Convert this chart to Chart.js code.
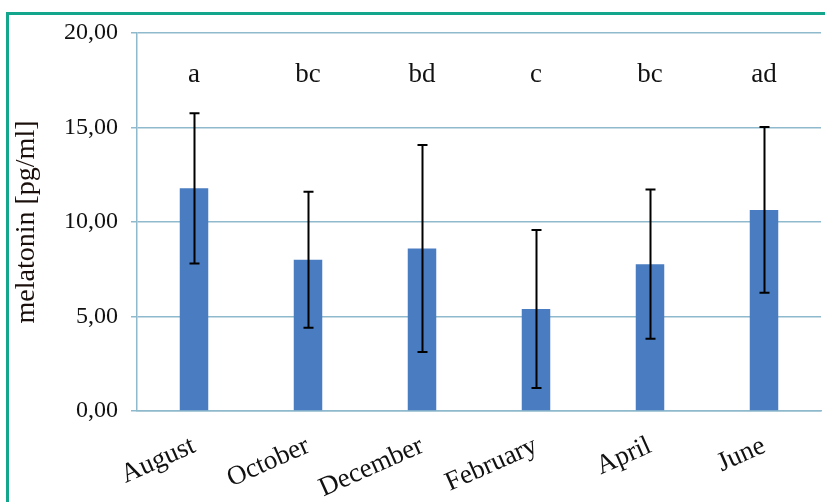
<!DOCTYPE html>
<html>
<head>
<meta charset="utf-8">
<script src="https://cdn.jsdelivr.net/npm/chart.js@4/dist/chart.umd.min.js"></script>
<style>
  html, body { margin: 0; padding: 0; background: #ffffff; }
  #wrap { position: relative; width: 825px; height: 502px; overflow: hidden; }
  #frame { position: absolute; left: 6px; top: 12px; width: 840px; height: 520px;
           border: 3px solid #14a58d; box-sizing: border-box; }
  #c { position: absolute; left: 0; top: 0; }
</style>
</head>
<body>
<div id="wrap">
  <div id="frame"></div>
  <canvas id="c" width="825" height="502"></canvas>
</div>
<script>
// Mean melatonin concentration per sampling month, with standard deviations
const months = ['August', 'October', 'December', 'February', 'April', 'June'];
const meanValues = [11.78, 8.00, 8.60, 5.40, 7.77, 10.64];
const sdValues = [3.98, 3.60, 5.48, 4.18, 3.95, 4.38];
const groupLetters = ['a', 'bc', 'bd', 'c', 'bc', 'ad'];
const yTicks = [0, 5, 10, 15, 20];

const serif = '"Liberation Serif", "Times New Roman", serif';
const gridBlue = '#8fb9cc';

// Whisker lines (mean ± SD) on top of each bar
const errorBars = {
  id: 'errorBars',
  afterDatasetsDraw(chart) {
    const ctx = chart.ctx;
    const y = chart.scales.y;
    const meta = chart.getDatasetMeta(0);
    ctx.save();
    ctx.strokeStyle = '#000000';
    ctx.lineWidth = 2;
    meta.data.forEach((bar, i) => {
      const top = y.getPixelForValue(meanValues[i] + sdValues[i]);
      const bot = y.getPixelForValue(meanValues[i] - sdValues[i]);
      const x = Math.round(bar.x) + 0.5;
      ctx.beginPath();
      ctx.moveTo(x, top); ctx.lineTo(x, bot);
      ctx.moveTo(x - 5, top); ctx.lineTo(x + 5, top);
      ctx.moveTo(x - 5, bot); ctx.lineTo(x + 5, bot);
      ctx.stroke();
    });
    ctx.restore();
  }
};

// Significance group letters above the bars
const letterLabels = {
  id: 'letterLabels',
  afterDatasetsDraw(chart, args, opts) {
    const ctx = chart.ctx;
    const y = chart.scales.y;
    const meta = chart.getDatasetMeta(0);
    ctx.save();
    ctx.fillStyle = '#111111';
    ctx.font = '27px ' + serif;
    ctx.textAlign = 'center';
    ctx.textBaseline = 'middle';
    const py = y.getPixelForValue(opts.level);
    meta.data.forEach((bar, i) => {
      ctx.fillText(groupLetters[i], bar.x, py);
    });
    ctx.restore();
  }
};

new Chart(document.getElementById('c'), {
  type: 'bar',
  data: {
    labels: months,
    datasets: [{
      data: meanValues,
      backgroundColor: '#4a7cc1',
      borderWidth: 0,
      categoryPercentage: 1.0,
      barPercentage: 0.25
    }]
  },
  plugins: [errorBars, letterLabels],
  options: {
    responsive: false,
    animation: false,
    layout: { padding: { left: 0, right: 4, top: 33, bottom: 0 } },
    plugins: {
      legend: { display: false },
      tooltip: { enabled: false },
      letterLabels: { level: 17.8 }
    },
    scales: {
      x: {
        grid: { display: false, drawTicks: false },
        border: { display: true, color: gridBlue, width: 1.5 },
        ticks: {
          color: '#111111',
          font: { family: serif, size: 27 },
          minRotation: 24, maxRotation: 24,
          padding: 19
        },
        afterFit(scale) { scale.height = 91; }
      },
      y: {
        min: 0, max: 20,
        afterBuildTicks(scale) { scale.ticks = yTicks.map(v => ({ value: v })); },
        grid: { color: gridBlue, lineWidth: 1.5, tickLength: 6, drawTicks: true },
        border: { display: true, color: gridBlue, width: 1.5 },
        ticks: {
          color: '#111111',
          font: { family: serif, size: 24 },
          padding: 13,
          callback: v => Number(v).toFixed(2).replace('.', ',')
        },
        title: {
          display: true,
          text: 'melatonin [pg/ml]',
          color: '#1a0f0a',
          font: { family: serif, size: 28 },
          padding: { top: 10, bottom: 0 }
        },
        afterFit(scale) { scale.width = 137; }
      }
    }
  }
});
</script>
</body>
</html>
